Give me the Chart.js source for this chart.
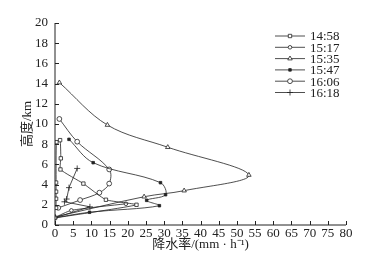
<!DOCTYPE html>
<html lang="zh">
<head>
  <meta charset="UTF-8" />
  <title>降水率廓线</title>
  <script src="https://cdn.jsdelivr.net/npm/chart.js"></script>
  <style>
    html, body { margin:0; padding:0; background:#fff; }
    #wrap { width:386px; height:267px; }
  </style>
</head>
<body>
<div id="wrap"><canvas id="c" width="386" height="267"></canvas></div>
<script>
// tick labels
const xTicks = [0,5,10,15,20,25,30,35,40,45,50,55,60,65,70,75,80];
const yTicks = [0,2,4,6,8,10,12,14,16,18,20];
const labels = ['14:58','15:17','15:35','15:47','16:06','16:18'];

// rain rate (mm/h) and height (km) per time
const r1458 = [0.3, 0.3, 0.3, 0.3, 0.4, 1.4, 1.6, 1.5, 7.8, 14, 22.4, 0];
const h1458 = [1.7, 2.6, 3.3, 4.2, 8.2, 8.4, 6.6, 5.5, 4.1, 2.5, 2.0, 0.7];
const r1517 = [0, 4.5, 19.5];
const h1517 = [0.75, 1.45, 2.1];
const r1535 = [1.2, 14.4, 31, 53.3, 35.5, 24.5, 0];
const h1535 = [14.1, 9.9, 7.7, 4.95, 3.4, 2.8, 0.8];
const r1547 = [3.85, 10.5, 29, 30.4, 25.2, 28.7, 9.5, 0];
const h1547 = [8.48, 6.17, 4.19, 3.0, 2.44, 1.91, 1.26, 0.72];
const r1606 = [1.2, 6.1, 14.9, 14.9, 12.2, 6.9, 0.9];
const h1606 = [10.5, 8.25, 5.5, 4.1, 3.2, 2.47, 1.7];
const r1618 = [6.1, 3.85, 3.2, 2.6, 9.6, 0];
const h1618 = [5.6, 3.7, 2.57, 2.3, 1.8, 0.72];

const pts = (xs, ys) => xs.map((x, i) => ({x: x, y: ys[i]}));

const serif = "'Liberation Serif','DejaVu Serif',serif";
const cjk = "'Liberation Serif','Noto Sans CJK SC',serif";

function ds(label, data, style, fill, radius, tension) {
  return {
    label: label, data: data, showLine: true,
    borderColor:'#222', borderWidth:0.8,
    pointStyle: style, pointRadius: radius, pointHoverRadius: radius,
    pointBackgroundColor: fill, pointBorderColor:'#222', pointBorderWidth:0.8,
    tension: tension
  };
}

const sets = [
  ds(labels[0], pts(r1458, h1458), 'rect', '#fff', 2.4, 0.15),
  ds(labels[1], pts(r1517, h1517), 'circle', '#fff', 1.8, 0.2),
  ds(labels[2], pts(r1535, h1535), 'triangle', '#fff', 2.6, 0.35),
  ds(labels[3], pts(r1547, h1547), 'rect', '#222', 1.8, 0.35),
  ds(labels[4], pts(r1606, h1606), 'circle', '#fff', 2.4, 0.35),
  ds(labels[5], pts(r1618, h1618), 'cross', '#222', 3, 0)
];

// inward ticks, axis lines and legend
const decor = {
  id:'decor',
  afterDraw(chart) {
    const ctx = chart.ctx, a = chart.chartArea;
    const xs = chart.scales.x, ys = chart.scales.y;
    ctx.save();
    ctx.strokeStyle = '#222'; ctx.lineWidth = 1;
    ctx.beginPath();
    ctx.moveTo(a.left, a.top); ctx.lineTo(a.left, a.bottom); ctx.lineTo(a.right, a.bottom);
    yTicks.forEach(v => { const y = Math.round(ys.getPixelForValue(v)) + 0.5; ctx.moveTo(a.left, y); ctx.lineTo(a.left + 4, y); });
    xTicks.forEach(v => { const x = Math.round(xs.getPixelForValue(v)) + 0.5; ctx.moveTo(x, a.bottom); ctx.lineTo(x, a.bottom - 4); });
    ctx.stroke();

    // legend
    ctx.font = '13px ' + serif;
    ctx.fillStyle = '#222';
    ctx.textBaseline = 'middle';
    sets.forEach((d, i) => {
      const y = 36 + i * 11.3;
      ctx.beginPath();
      ctx.lineWidth = 0.8;
      ctx.moveTo(275, y); ctx.lineTo(305, y); ctx.stroke();
      ctx.fillStyle = d.pointBackgroundColor;
      Chart.helpers.drawPoint(ctx, {pointStyle: d.pointStyle, radius: d.pointRadius, rotation: 0, borderWidth: 0.8}, 290, y);
      ctx.fillStyle = '#222';
      ctx.fillText(d.label, 310, y + 1);
    });
    ctx.restore();
  }
};

new Chart(document.getElementById('c'), {
  type:'scatter',
  data:{ datasets: sets },
  options:{
    responsive:false, animation:false,
    layout:{ padding:{ left:20, top:23, right:40, bottom:15 } },
    plugins:{ legend:{ display:false }, tooltip:{ enabled:false } },
    scales:{
      x:{
        type:'linear', min:0, max:80,
        afterBuildTicks: s => { s.ticks = xTicks.map(v => ({value:v})); },
        afterFit: s => { s.height = 27; },
        grid:{ display:false, drawTicks:false },
        border:{ display:false },
        ticks:{ color:'#222', padding:1, maxRotation:0, autoSkip:false, font:{ family:serif, size:13 } },
        title:{ display:true, text:'降水率/(mm · h⁻¹)', color:'#222', padding:{top:0, bottom:0}, font:{ family:cjk, size:13 } }
      },
      y:{
        type:'linear', min:0, max:20,
        afterBuildTicks: s => { s.ticks = yTicks.map(v => ({value:v})); },
        afterFit: s => { s.width = 35; },
        grid:{ display:false, drawTicks:false },
        border:{ display:false },
        ticks:{ color:'#222', padding:7, autoSkip:false, font:{ family:serif, size:13 } },
        title:{ display:true, text:'高度/km', color:'#222', padding:{top:0, bottom:0}, font:{ family:cjk, size:13 } }
      }
    }
  },
  plugins:[decor]
});
</script>
</body>
</html>
